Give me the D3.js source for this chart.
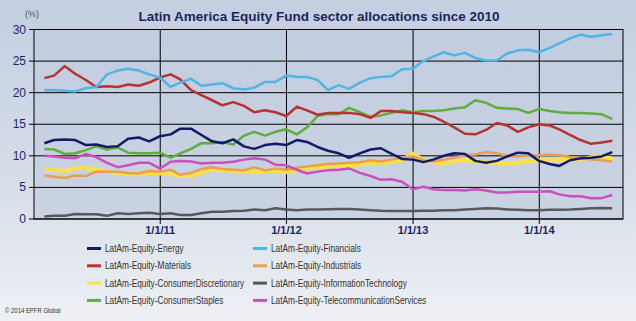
<!DOCTYPE html>
<html>
<head>
<meta charset="utf-8">
<script src="https://cdn.jsdelivr.net/npm/d3@7"></script>
<style>
  body { margin: 0; padding: 0; }
  svg { display: block; font-family: "Liberation Sans", Arial, sans-serif; }
</style>
</head>
<body>
<svg id="chart" width="636" height="321"></svg>
<script>
// monthly values, Jan 2010 .. Jul 2014 (month ends)
const months = d3.timeMonth.range(new Date(2010, 0, 1), new Date(2014, 7, 1));

const energy = [12.0,12.5,12.6,12.5,11.7,11.8,11.4,11.5,12.7,12.9,12.3,13.1,13.4,14.3,14.3,13.3,12.3,12.0,12.6,11.5,11.1,11.7,11.9,11.7,12.5,12.2,11.4,10.8,10.4,9.7,10.4,11.0,11.2,10.3,9.5,9.4,9.0,9.4,10.0,10.4,10.3,9.2,8.9,9.2,9.9,10.5,10.4,9.2,8.7,8.4,9.3,9.6,9.7,9.9,10.6];
const financials = [20.4,20.4,20.3,20.2,20.7,20.9,22.9,23.5,23.8,23.5,22.9,22.4,20.9,21.6,22.2,21.1,21.3,21.5,20.7,20.5,20.8,21.7,21.7,22.7,22.5,22.5,22.0,20.4,21.2,20.6,21.6,22.3,22.5,22.6,23.7,23.8,25.0,25.7,26.4,25.9,26.3,25.5,25.1,25.1,26.2,26.7,26.8,26.4,27.1,27.8,28.6,29.2,28.8,29.1,29.3];
const materials = [22.3,22.7,24.2,23.0,22.0,20.9,21.0,20.9,21.3,21.1,21.6,22.4,22.9,22.1,20.4,19.6,18.8,18.0,18.5,17.9,16.9,17.2,16.9,16.3,17.8,17.2,16.5,16.8,16.8,16.8,16.6,16.0,17.1,17.1,16.9,16.8,16.6,16.2,15.4,14.5,13.5,13.4,14.1,15.2,14.8,13.8,14.5,15.0,14.8,14.2,13.3,12.5,11.9,12.1,12.4];
const industrials = [6.9,6.7,6.5,6.9,6.8,7.5,7.5,7.5,7.3,7.2,7.6,7.5,7.8,7.0,7.3,7.9,8.2,7.9,7.8,7.7,8.2,7.7,8.0,7.8,8.1,8.3,8.5,8.7,8.8,8.9,9.0,9.3,9.1,9.4,9.7,9.9,9.3,9.1,9.4,9.7,10.1,10.2,10.6,10.4,10.0,9.9,10.0,10.1,10.2,10.1,9.8,9.6,9.4,9.3,9.1];
const consDisc = [7.8,7.7,7.6,8.0,8.1,7.8,7.5,7.3,7.1,7.1,7.3,7.2,7.1,6.8,6.8,7.4,7.8,7.7,7.6,7.5,7.4,7.5,7.6,7.4,7.7,8.0,8.2,8.3,8.4,8.5,8.6,8.8,8.9,9.0,9.3,10.4,9.3,9.0,8.7,9.2,9.3,9.2,9.0,8.8,8.8,8.9,9.1,9.3,9.3,9.3,9.5,9.4,9.8,9.9,9.6];
const infoTech = [0.4,0.5,0.5,0.8,0.75,0.75,0.5,0.9,0.8,0.9,1.0,0.8,0.9,0.65,0.65,0.9,1.15,1.15,1.25,1.3,1.5,1.4,1.7,1.5,1.4,1.5,1.5,1.55,1.6,1.6,1.5,1.4,1.3,1.25,1.25,1.25,1.3,1.3,1.4,1.4,1.5,1.6,1.7,1.65,1.5,1.45,1.4,1.4,1.45,1.45,1.5,1.6,1.7,1.75,1.7];
const consStaples = [11.1,11.0,10.3,10.4,10.9,11.5,11.0,11.3,10.5,10.4,10.4,10.5,9.7,10.4,11.1,12.0,12.0,12.2,11.8,13.2,13.8,13.2,13.8,14.2,13.4,14.5,16.3,16.6,16.6,17.6,16.9,16.2,16.4,16.8,17.2,16.9,17.1,17.1,17.2,17.5,17.7,18.8,18.4,17.6,17.5,17.4,16.8,17.4,17.1,16.9,16.8,16.8,16.7,16.6,15.8];
const telecom = [10.0,9.9,9.7,9.6,10.3,9.8,8.9,8.2,8.5,8.9,8.9,8.0,9.05,9.2,9.1,8.8,8.9,8.9,9.05,9.4,9.6,9.4,8.6,8.5,7.8,7.2,7.5,7.7,7.8,8.0,7.3,6.8,6.2,6.3,5.9,4.7,5.1,4.7,4.6,4.6,4.5,4.7,4.5,4.2,4.2,4.3,4.3,4.3,4.4,3.9,3.6,3.6,3.3,3.3,3.8];

const yTicks = [0, 5, 10, 15, 20, 25, 30];
const xTicks = [new Date(2011,0,1), new Date(2012,0,1), new Date(2013,0,1), new Date(2014,0,1)];

const series = [
  {name: "LatAm-Equity-Energy", values: energy, color: "#141a66", w: 2.5},
  {name: "LatAm-Equity-Financials", values: financials, color: "#4fb6e3", w: 2.5},
  {name: "LatAm-Equity-Materials", values: materials, color: "#b8322e", w: 2.5},
  {name: "LatAm-Equity-Industrials", values: industrials, color: "#e9a04e", w: 2.5},
  {name: "LatAm-Equity-ConsumerDiscretionary", values: consDisc, color: "#fde047", w: 4},
  {name: "LatAm-Equity-InformationTechnology", values: infoTech, color: "#58595b", w: 2.5},
  {name: "LatAm-Equity-ConsumerStaples", values: consStaples, color: "#5fae3c", w: 2.5},
  {name: "LatAm-Equity-TelecommunicationServices", values: telecom, color: "#cc4fbf", w: 2.5}
];
// draw order: yellow under the others
const drawOrder = [4, 6, 2, 1, 3, 7, 5, 0];

const svg = d3.select("#chart");
const mLeft = 34, mRight = 623, mTop = 29.5, mBottom = 219;

const defs = svg.append("defs");
const bg = defs.append("linearGradient").attr("id", "bg").attr("x1", 0).attr("y1", 0).attr("x2", 0).attr("y2", 1);
bg.append("stop").attr("offset", "0%").attr("stop-color", "#c3cee0");
bg.append("stop").attr("offset", "60%").attr("stop-color", "#d8dfea");
bg.append("stop").attr("offset", "100%").attr("stop-color", "#eef0f4");
const pg = defs.append("linearGradient").attr("id", "pg").attr("x1", 0).attr("y1", 0).attr("x2", 0).attr("y2", 1);
pg.append("stop").attr("offset", "0%").attr("stop-color", "#c2cde0");
pg.append("stop").attr("offset", "100%").attr("stop-color", "#cad3e2");

svg.append("rect").attr("width", 636).attr("height", 321).attr("fill", "url(#bg)");

const x = d3.scaleTime().domain([new Date(2010,0,1), new Date(2014,7,31)]).range([mLeft, mRight]);
const y = d3.scaleLinear().domain([0, 30]).range([mBottom, mTop]);

svg.append("rect")
  .attr("x", mLeft).attr("y", mTop).attr("width", mRight - mLeft).attr("height", mBottom - mTop)
  .attr("fill", "url(#pg)");

// grid
svg.append("g").selectAll("line").data(yTicks).enter().append("line")
  .attr("x1", mLeft - 5).attr("x2", mRight)
  .attr("y1", d => y(d)).attr("y2", d => y(d))
  .attr("stroke", "#000").attr("stroke-width", 1);
svg.append("g").selectAll("line").data(xTicks).enter().append("line")
  .attr("x1", d => x(d)).attr("x2", d => x(d))
  .attr("y1", mTop).attr("y2", mBottom + 5)
  .attr("stroke", "#000").attr("stroke-width", 1);
svg.append("rect")
  .attr("x", mLeft).attr("y", mTop).attr("width", mRight - mLeft).attr("height", mBottom - mTop)
  .attr("fill", "none").attr("stroke", "#000").attr("stroke-width", 1);

// tick labels
svg.append("g").selectAll("text").data(yTicks).enter().append("text")
  .attr("x", mLeft - 8).attr("y", d => y(d) + 4)
  .attr("text-anchor", "end").attr("font-size", 12).attr("fill", "#1c2470")
  .text(d => d);
svg.append("g").selectAll("text").data(xTicks).enter().append("text")
  .attr("x", d => x(d)).attr("y", mBottom + 15)
  .attr("text-anchor", "middle").attr("font-size", 11).attr("font-weight", "bold").attr("fill", "#1c2470")
  .text(d => d3.timeFormat("%-m/%-d/%y")(d));

// lines
const monthEnd = d => new Date(d.getFullYear(), d.getMonth() + 1, 0);
const line = d3.line().x((v, i) => x(monthEnd(months[i]))).y(v => y(v));
svg.append("g").selectAll("path").data(drawOrder.map(i => series[i])).enter().append("path")
  .attr("d", s => line(s.values))
  .attr("fill", "none")
  .attr("stroke", s => s.color)
  .attr("stroke-width", s => s.w)
  .attr("stroke-linejoin", "round");

// title
svg.append("text").attr("x", 319).attr("y", 21)
  .attr("text-anchor", "middle").attr("font-size", 13.5).attr("font-weight", "bold").attr("fill", "#1c2460")
  .text("Latin America Equity Fund sector allocations since 2010");
svg.append("text").attr("x", 25).attr("y", 17)
  .attr("font-size", 9).attr("fill", "#555")
  .text("(%)");

// legend (narrow text like the original)
const legend = svg.append("g").selectAll("g").data(series).enter().append("g")
  .attr("transform", (s, i) => `translate(${i % 2 === 0 ? 87 : 253}, ${248.5 + Math.floor(i / 2) * 17.3})`);
legend.append("line").attr("x1", 0).attr("x2", 14).attr("y1", 0).attr("y2", 0)
  .attr("stroke", s => s.color).attr("stroke-width", 3);
legend.append("text").attr("transform", "translate(18,3.5) scale(0.83,1)")
  .attr("font-size", 10).attr("fill", "#333")
  .text(s => s.name);

svg.append("text").attr("transform", "translate(5,313) scale(0.85,1)")
  .attr("font-size", 7).attr("fill", "#333")
  .text("© 2014 EPFR Global");
</script>
</body>
</html>
